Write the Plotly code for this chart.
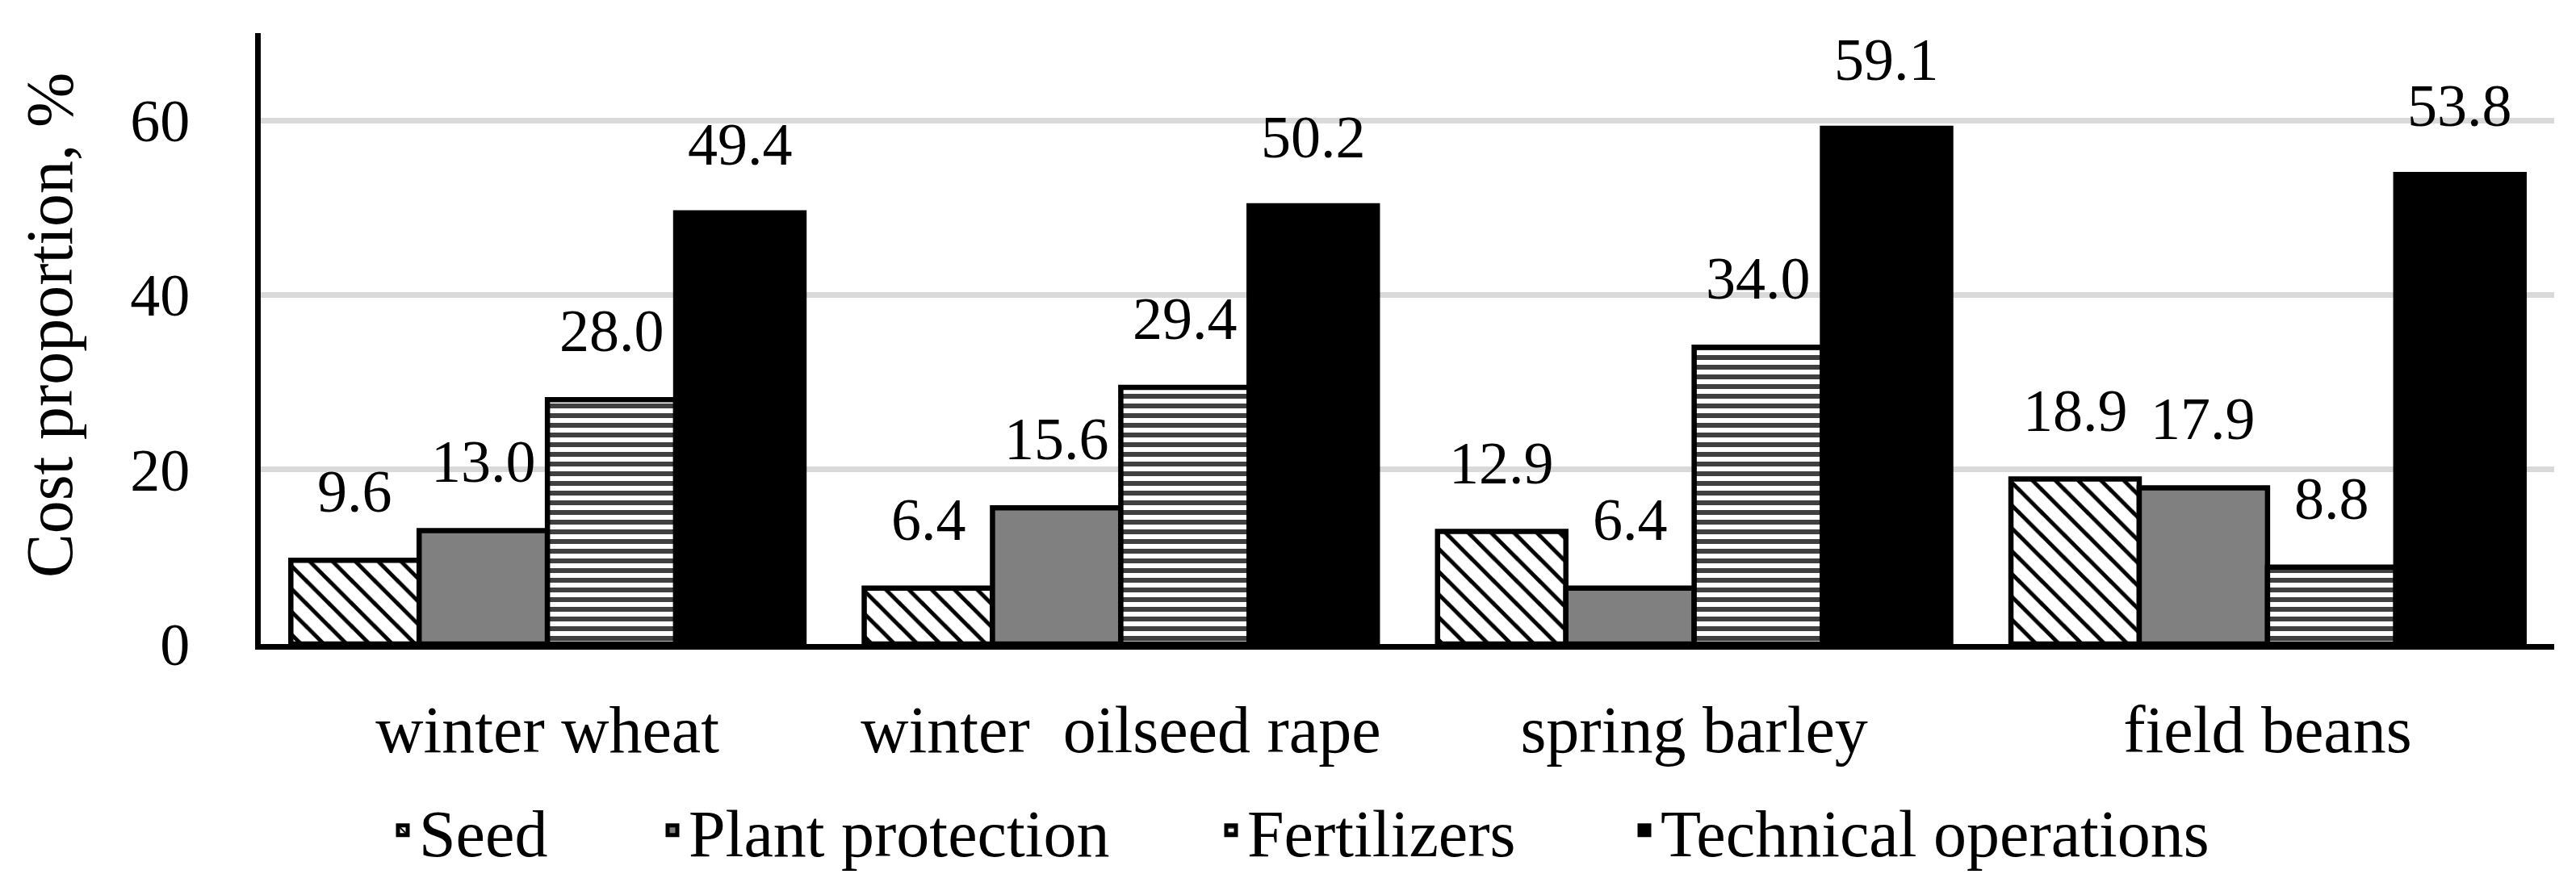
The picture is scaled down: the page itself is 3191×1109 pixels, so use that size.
import plotly.graph_objects as go

# ---- data ----
categories = ["winter wheat", "winter\u00a0 oilseed rape", "spring barley", "field beans"]
series_names = ["Seed", "Plant protection", "Fertilizers", "Technical operations"]
seed = [9.6, 6.4, 12.9, 18.9]
plant_protection = [13.0, 15.6, 6.4, 17.9]
fertilizers = [28.0, 29.4, 34.0, 8.8]
technical_operations = [49.4, 50.2, 59.1, 53.8]
y_ticks = [0, 20, 40, 60]
y_title = "Cost proportion, %"

# ---- layout constants ----
W, H = 3191, 1109
L, R, T, B = 315, 35, 33, 319
PW = W - L - R
PH = H - T - B
BARGAP = 0.105
FONT = "Liberation Serif"
NUM_SIZE = 74
TXT_SIZE = 82
LINE_W = 6.5

series_values = [seed, plant_protection, fertilizers, technical_operations]
markers = [
    dict(color="white", pattern=dict(shape="\\", fgcolor="black", bgcolor="white",
                                     size=20, solidity=0.25, fillmode="replace"),
         line=dict(color="black", width=LINE_W)),
    dict(color="#808080", line=dict(color="black", width=LINE_W)),
    dict(color="white", pattern=dict(shape="-", fgcolor="#404040", bgcolor="white",
                                     size=12, solidity=0.5, fillmode="replace"),
         line=dict(color="black", width=LINE_W)),
    dict(color="black", line=dict(color="black", width=LINE_W)),
]
legend_ids = ["legend", "legend2", "legend3", "legend4"]
legend_text_px = [522, 856, 1548, 2060]  # left edge of legend text (pixels)

fig = go.Figure()
for name, vals, mk, lid in zip(series_names, series_values, markers, legend_ids):
    fig.add_trace(go.Bar(x=categories, y=vals, name=name, marker=mk, legend=lid,
                         hoverinfo="x+y+name"))

# value labels above bars
n = len(series_names)
slot = (1 - BARGAP) / n
annotations = []
for j, vals in enumerate(series_values):
    for i, v in enumerate(vals):
        annotations.append(dict(
            x=i + (j - (n - 1) / 2) * slot, y=v, xref="x", yref="y",
            text=f"{v:.1f}", showarrow=False, yanchor="bottom", xanchor="center",
            yshift=42, font=dict(family=FONT, size=NUM_SIZE, color="black")))

# y-axis title
annotations.append(dict(
    x=(54 - L) / PW, y=(H - B - 395) / PH, xref="paper", yref="paper",
    text=y_title, textangle=-90, showarrow=False, xanchor="center", yanchor="middle",
    font=dict(family=FONT, size=TXT_SIZE, color="black")))

layout_legends = {}
for lid, tx in zip(legend_ids, legend_text_px):
    layout_legends[lid] = dict(
        x=(tx - 51 - L) / PW, xanchor="left",
        y=(H - B - 1021) / PH, yanchor="middle",
        orientation="h", bgcolor="rgba(0,0,0,0)", borderwidth=0,
        font=dict(family=FONT, size=TXT_SIZE, color="black"))

fig.update_layout(
    width=W, height=H,
    margin=dict(l=L, r=R, t=T, b=B, pad=0),
    paper_bgcolor="white", plot_bgcolor="white",
    barmode="group", bargap=BARGAP, bargroupgap=0,
    font=dict(family=FONT, size=NUM_SIZE, color="black"),
    annotations=annotations,
    showlegend=True,
    **layout_legends,
)
fig.update_xaxes(
    type="category", showline=True, linecolor="black", linewidth=7,
    ticks="", showgrid=False, ticklabelstandoff=29,
    tickfont=dict(family=FONT, size=TXT_SIZE, color="black"),
)
fig.update_yaxes(
    range=[0, 70], tickvals=y_ticks, showline=True, linecolor="black", linewidth=7,
    ticks="", showgrid=True, gridcolor="#d9d9d9", gridwidth=6.5, zeroline=False,
    ticklabelstandoff=66,
    tickfont=dict(family=FONT, size=NUM_SIZE, color="black"),
)

fig.write_html("out.html")
